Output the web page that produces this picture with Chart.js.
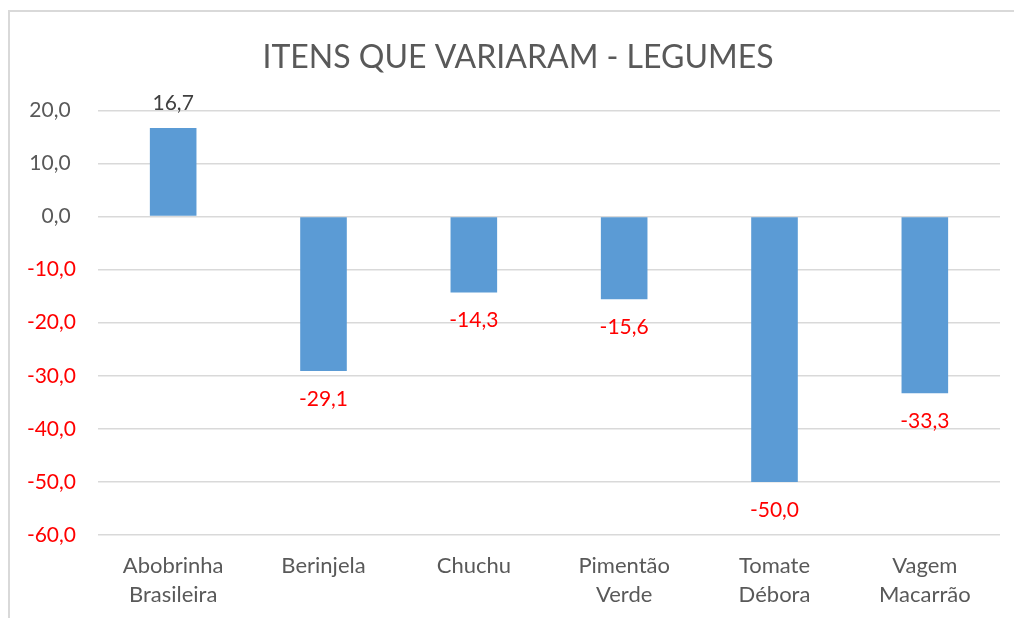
<!DOCTYPE html>
<html><head><meta charset="utf-8">
<script src="https://cdn.jsdelivr.net/npm/chart.js@4/dist/chart.umd.min.js"></script>
<style>
html,body{margin:0;padding:0;background:#fff;}
#wrap{position:relative;width:1014px;height:618px;overflow:hidden;}
#frame{position:absolute;left:8px;top:10px;width:1020px;height:640px;border:2px solid #d9d9d9;box-sizing:border-box;pointer-events:none;}
canvas{position:absolute;left:0;top:0;}
</style></head>
<body><div id="wrap"><canvas id="c" width="1036" height="618"></canvas><div id="frame"></div></div>
<script>
const categories = [['Abobrinha','Brasileira'],'Berinjela','Chuchu',['Pimentão','Verde'],['Tomate','Débora'],['Vagem','Macarrão']];
const values = [16.7, -29.1, -14.3, -15.6, -50.0, -33.3];
const titleText = 'ITENS QUE VARIARAM - LEGUMES';
const yMin = -60, yMax = 20, yStep = 10;

const FONT = 'Lato, "Open Sans", sans-serif';
const fmt = v => v.toFixed(1).replace('.', ',');

const labelPlugin = {
  id: 'barLabels',
  afterDatasetsDraw(chart) {
    const ctx = chart.ctx;
    const meta = chart.getDatasetMeta(0);
    ctx.save();
    ctx.font = '21px ' + FONT;
    ctx.textAlign = 'center';
    ctx.textBaseline = 'alphabetic';
    meta.data.forEach((bar, i) => {
      const v = values[i];
      if (v >= 0) {
        ctx.fillStyle = '#404040';
        ctx.fillText(fmt(v), bar.x, bar.y - 18);
      } else {
        ctx.fillStyle = '#ff0000';
        ctx.fillText(fmt(v), bar.x, bar.y + 35);
      }
    });
    ctx.restore();
  }
};

new Chart(document.getElementById('c'), {
  type: 'bar',
  data: {
    labels: categories,
    datasets: [{
      data: values,
      backgroundColor: '#5b9bd5',
      borderWidth: 0,
      categoryPercentage: 1,
      barPercentage: 0.31
    }]
  },
  options: {
    responsive: false,
    animation: false,
    events: [],
    layout: { padding: 0 },
    plugins: {
      legend: { display: false },
      tooltip: { enabled: false },
      title: {
        display: true,
        text: titleText,
        color: '#595959',
        font: { family: FONT, size: 32, weight: 'normal' },
        padding: { top: 38, bottom: 34 }
      }
    },
    scales: {
      x: {
        grid: { display: false, drawTicks: false },
        border: { display: false },
        ticks: {
          color: '#595959',
          font: { family: FONT, size: 22, lineHeight: 1.32 },
          padding: 16,
          maxRotation: 0,
          autoSkip: false
        },
        afterFit(scale) { scale.height = 83; }
      },
      y: {
        min: yMin, max: yMax,
        grid: { color: '#d9d9d9', lineWidth: 1.5, drawTicks: false },
        border: { display: false },
        ticks: {
          stepSize: yStep,
          padding: 22,
          font: { family: FONT, size: 21 },
          color: c => (c.tick && c.tick.value < 0) ? '#ff0000' : '#595959',
          callback: v => v >= 0 ? fmt(v) + ' ' : fmt(v)
        },
        afterFit(scale) { scale.width = 98; }
      },
      spacer: {
        type: 'linear',
        position: 'right',
        display: true,
        grid: { display: false, drawTicks: false },
        border: { display: false },
        ticks: { display: false },
        afterFit(scale) { scale.width = 36; }
      }
    }
  },
  plugins: [labelPlugin]
});
</script></body></html>
